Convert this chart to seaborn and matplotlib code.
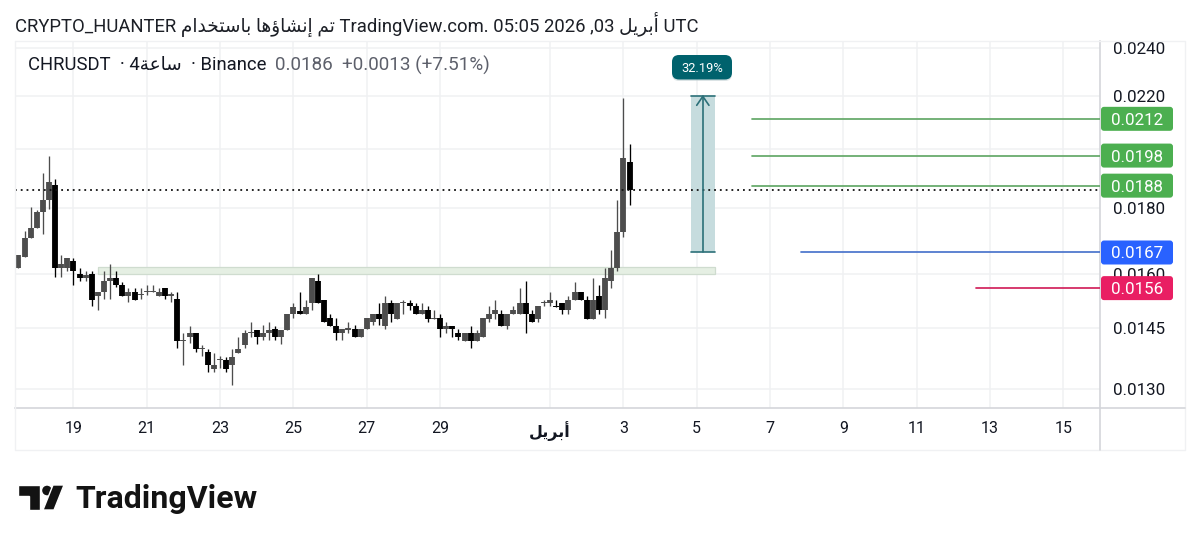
import numpy as np
import pandas as pd
import seaborn as sns
import matplotlib.pyplot as plt
from matplotlib.patches import FancyBboxPatch, Polygon, Circle
from matplotlib.ticker import NullLocator

# candles, one every 4 hours, in units of 0.0001 (bar 0 = the 19th)
opens = [
    161.7, 164.8, 170.7, 173.8, 178.7, 182.5, 187.7, 161.7, 161.6, 163.6,
    159.8, 158.9, 159.8, 153.7, 154.8, 157.8, 158.9, 156.7, 153.7, 154.8,
    153.9, 154.7, 154.7, 153.8, 155.8, 153.8, 152.8, 141.8, 142.8, 143.9,
    139.7, 138.9, 134.9, 137.0, 137.0, 135.8, 138.8, 140.8, 143.9, 144.7,
    142.8, 143.9, 144.8, 142.8, 144.7, 148.7, 149.7, 148.7, 151.8, 157.8,
    152.7, 147.7, 145.7, 143.9, 144.7, 144.8, 142.8, 144.8, 146.8, 148.7,
    145.6, 151.9, 147.6, 151.9, 151.9, 150.9, 148.7, 149.8, 147.6, 147.7,
    144.8, 145.7, 143.7, 141.9, 143.7, 141.9, 142.8, 147.6, 148.7, 148.7,
    145.7, 148.7, 148.7, 151.9, 148.7, 147.6, 151.9, 151.9, 151.0, 151.9,
    149.8, 152.7, 154.8, 152.7, 147.6, 153.7, 149.8, 157.8, 161.6, 172.5,
    195.6,
]
highs = [
    165.6, 172.6, 180.5, 179.4, 191.8, 197.5, 189.7, 165.6, 164.7, 164.7,
    161.7, 160.9, 160.8, 154.8, 160.9, 162.7, 160.9, 157.6, 155.8, 155.8,
    155.8, 156.7, 156.7, 155.8, 155.8, 154.8, 154.8, 143.8, 145.7, 143.9,
    140.8, 139.8, 138.8, 138.1, 137.8, 139.8, 142.8, 144.7, 146.7, 144.7,
    145.8, 146.7, 145.6, 144.7, 148.7, 151.8, 154.8, 152.7, 158.9, 159.8,
    152.7, 148.7, 147.7, 144.8, 146.7, 145.8, 144.8, 147.7, 148.7, 151.9,
    153.7, 152.7, 151.9, 152.7, 152.5, 151.9, 151.9, 150.9, 149.8, 148.7,
    146.8, 145.7, 144.8, 143.7, 145.7, 144.5, 147.7, 150.9, 152.7, 149.8,
    148.7, 150.9, 155.9, 157.8, 149.8, 150.9, 152.7, 154.8, 152.7, 151.9,
    153.7, 157.7, 154.8, 153.7, 158.9, 156.7, 161.7, 166.8, 182.6, 219.5,
    201.8,
]
lows = [
    161.7, 164.8, 170.7, 173.8, 171.9, 179.7, 159.0, 159.0, 160.9, 156.9,
    157.9, 157.9, 151.0, 150.0, 152.9, 152.9, 156.1, 153.7, 152.0, 152.7,
    153.0, 153.9, 154.7, 153.8, 152.8, 152.0, 139.9, 135.9, 141.2, 138.9,
    138.1, 134.0, 134.0, 135.1, 134.0, 131.0, 138.8, 139.9, 142.8, 141.0,
    142.0, 142.0, 142.0, 141.0, 144.7, 147.8, 148.7, 148.7, 149.8, 151.8,
    146.7, 145.7, 142.0, 142.0, 143.9, 142.8, 142.8, 144.8, 145.8, 145.8,
    144.8, 146.7, 147.6, 148.9, 149.9, 148.7, 148.7, 146.7, 147.6, 142.8,
    143.9, 142.8, 142.0, 141.9, 139.9, 141.9, 142.8, 146.7, 147.6, 145.7,
    144.8, 148.7, 148.7, 143.9, 146.7, 146.7, 151.1, 151.1, 150.8, 148.7,
    148.7, 152.7, 152.7, 147.6, 147.6, 148.7, 147.8, 155.9, 160.9, 170.8,
    181.0,
]
closes = [
    165.6, 170.6, 173.7, 178.6, 182.5, 188.7, 161.7, 162.7, 164.7, 160.8,
    158.9, 159.7, 152.5, 154.8, 157.8, 158.9, 156.7, 153.7, 154.7, 152.7,
    154.4, 155.0, 155.0, 154.8, 153.7, 154.2, 141.8, 142.0, 143.9, 139.8,
    139.9, 135.8, 135.8, 137.2, 134.8, 137.8, 139.8, 143.9, 144.1, 142.8,
    143.7, 144.7, 142.8, 144.7, 148.7, 150.7, 148.7, 150.7, 158.9, 151.8,
    146.7, 145.7, 143.9, 144.8, 145.0, 142.8, 144.8, 147.7, 148.7, 147.6,
    151.9, 148.7, 151.9, 152.0, 150.9, 148.7, 149.8, 147.6, 147.8, 144.8,
    145.7, 144.8, 142.8, 143.7, 141.9, 143.7, 147.7, 148.7, 149.8, 145.7,
    148.7, 149.8, 151.9, 148.7, 146.7, 150.9, 152.1, 152.7, 150.8, 149.8,
    152.7, 154.8, 152.7, 147.6, 152.7, 149.8, 158.9, 161.7, 172.5, 197.0,
    186.0,
]
first_bar = -9
last_price = 0.0186

day_ticks = [0, 12, 24, 36, 48, 60, 78, 90, 102, 114, 126, 138, 150, 162]
day_labels = ["19", "21", "23", "25", "27", "29", "أبريل", "3", "5", "7", "9", "11", "13", "15"]
price_ticks = [0.0240, 0.0220, 0.0200, 0.0180, 0.0160, 0.0145, 0.0130]
price_labels = ["0.0240", "0.0220", "", "0.0180", "0.0160", "0.0145", "0.0130"]

level_prices = [0.02113, 0.01978, 0.01874, 0.01662, 0.01559]
level_texts = ["0.0212", "0.0198", "0.0188", "0.0167", "0.0156"]
level_starts = [111, 111, 111, 119, 147.7]
level_lines = ["#63a867", "#63a867", "#63a867", "#4a74cc", "#d2225c"]
level_boxes = ["#4caf50", "#4caf50", "#4caf50", "#2962ff", "#e91e63"]

move_low, move_high = 0.01664, 0.0220
zone_low, zone_high = 0.01598, 0.01618

# arabic text has to be shaped by hand, matplotlib does not do it
FORMS = {
    "ا": (0xFE8D, 2), "أ": (0xFE83, 2), "إ": (0xFE87, 2), "ؤ": (0xFE85, 2), "د": (0xFEA9, 2),
    "ر": (0xFEAD, 2), "ة": (0xFE93, 2), "ب": (0xFE8F, 4), "ت": (0xFE95, 4), "خ": (0xFEA5, 4),
    "س": (0xFEB1, 4), "ش": (0xFEB5, 4), "ع": (0xFEC9, 4), "ل": (0xFEDD, 4), "م": (0xFEE1, 4),
    "ن": (0xFEE5, 4), "ه": (0xFEE9, 4), "ي": (0xFEF1, 4),
}


def shape(text):
    out = []
    for i, ch in enumerate(text):
        if ch not in FORMS:
            out.append(ch)
            continue
        base, n = FORMS[ch]
        prev = text[i - 1] if i else " "
        nxt = text[i + 1] if i + 1 < len(text) else " "
        joins_prev = prev in FORMS and FORMS[prev][1] == 4
        joins_next = n == 4 and nxt in FORMS
        offset = {(0, 0): 0, (1, 0): 1, (0, 1): 2, (1, 1): 3}[(int(joins_prev), int(joins_next))]
        out.append(chr(base + offset))
    return "".join(reversed(out))


W, H = 1200, 542
sns.set_theme(style="white")
plt.rcParams["font.family"] = ["Roboto", "DejaVu Sans"]

bars = np.arange(len(opens)) + first_bar
candles = pd.DataFrame({"bar": bars, "open": opens, "high": highs, "low": lows, "close": closes})
candles[["open", "high", "low", "close"]] *= 1e-4
candles["side"] = np.where(candles["close"] >= candles["open"], "up", "down")
wicks = candles.melt(id_vars=["bar", "side"], value_vars=["high", "low"], value_name="price")
bodies = candles.melt(id_vars=["bar", "side"], value_vars=["open", "close"], value_name="price")
side_colors = {"up": "#4d4d4d", "down": "#000000"}

fig = plt.figure(figsize=(W / 100, H / 100), dpi=100, facecolor="white")
left, right, top, bottom = 15, 1100, 41, 408
ax = fig.add_axes([left / W, 1 - bottom / H, (right - left) / W, (bottom - top) / H])

for data, width in [(wicks, 0.95), (bodies, 4.2)]:
    sns.lineplot(
        data=data, x="bar", y="price", hue="side", units="bar", estimator=None,
        palette=side_colors, linewidth=width, legend=False, ax=ax, zorder=4,
        solid_capstyle="butt", sort=False,
    )

ax.set_yscale("log")
ax.set_xlim(-9.57, 168.0)
ax.set_ylim(0.01257, 0.0243)
ax.yaxis.tick_right()
ax.yaxis.set_minor_locator(NullLocator())
ax.set_yticks(price_ticks)
ax.set_yticklabels(price_labels)
ax.set_xticks(day_ticks)
ax.set_xticklabels([shape(t) if not t.isdigit() else t for t in day_labels])
ax.set_xlabel("")
ax.set_ylabel("")
ax.tick_params(axis="y", length=0, pad=9.5, labelsize=12.2, labelcolor="#131722")
ax.tick_params(axis="x", length=0, pad=9.5, labelsize=11.5, labelcolor="#131722")
ax.get_xticklabels()[6].set_fontweight("bold")
ax.grid(True, color="#f0f1f3", linewidth=1.1)
ax.set_axisbelow(True)
for name, spine in ax.spines.items():
    spine.set_visible(name in ("right", "bottom"))
    spine.set_color("#d4d6da")
    spine.set_linewidth(1.2)

# zone, current price and measure tool
ax.fill_between([4, 105], zone_low, zone_high, facecolor="#e5efe3", edgecolor="#cfdccf", linewidth=0.9, zorder=2)
ax.axhline(last_price, color="#111111", linewidth=1.3, linestyle=(0, (1, 2.2)), zorder=5)
ax.fill_between([101, 105], move_low, move_high, color="#c6dcde", linewidth=0, zorder=2)
ax.plot([101, 105], [move_low, move_low], color="#2c7079", linewidth=1.2, zorder=6)
ax.plot([101, 105], [move_high, move_high], color="#2c7079", linewidth=1.2, zorder=6)
ax.plot([103, 103], [move_low, move_high], color="#2c7079", linewidth=1.2, zorder=6)
ax.plot([102, 103, 104], [0.02165, move_high, 0.02165], color="#2c7079", linewidth=1.2, zorder=6)

for price, start, color in zip(level_prices, level_starts, level_lines):
    ax.plot([start, 168.0], [price, price], color=color, linewidth=1.25, zorder=5)

# everything around the plot is placed in picture pixels
pix = fig.add_axes([0, 0, 1, 1], facecolor="none", zorder=5)
pix.set_xlim(0, W)
pix.set_ylim(H, 0)
pix.axis("off")

frame = "#f0f1f3"
pix.plot([15, 1185, 1185, 15, 15], [41, 41, 450, 450, 41], color=frame, linewidth=1.0)
pix.plot([1100, 1185], [408, 408], color="#d4d6da", linewidth=1.2)
pix.plot([1100, 1100], [408, 450], color="#d4d6da", linewidth=1.2)

for price, label, color in zip(level_prices, level_texts, level_boxes):
    y = H - ax.transData.transform((0, price))[1]
    pix.add_patch(FancyBboxPatch((1101, y - 12), 72, 24, boxstyle="round,pad=0,rounding_size=3",
                                 facecolor=color, edgecolor="none", zorder=6))
    pix.text(1137, y, label, color="white", fontsize=12.2, ha="center", va="center_baseline", zorder=7)

pix.add_patch(FancyBboxPatch((672, 56), 60, 25, boxstyle="round,pad=0,rounding_size=7",
                             facecolor="#b9c9cc", edgecolor="none", alpha=0.5, zorder=6))
pix.add_patch(FancyBboxPatch((672, 55), 60, 24.5, boxstyle="round,pad=0,rounding_size=7",
                             facecolor="#00626d", edgecolor="none", zorder=6))
pix.text(702, 67.5, "32.19%", color="white", fontsize=9.3, ha="center", va="center_baseline", zorder=7)

title = ("CRYPTO_HUANTER " + shape("تم إنشاؤها باستخدام") + " TradingView.com. 05:05 2026 ,03 "
         + shape("أبريل") + " UTC")
pix.text(15, 22, title, color="#1c1f26", fontsize=13.35, ha="left", va="center_baseline")
pix.text(28, 63, "CHRUSDT  · 4" + shape("ساعة") + "  · Binance", color="#131722", fontsize=13.3,
         ha="left", va="center_baseline")
pix.text(275, 63, "0.0186  +0.0013 (+7.51%)", color="#5d606b", fontsize=13.6, ha="left", va="center_baseline")

# logo
pix.add_patch(Polygon([(18, 485), (40, 485), (40, 510), (29, 510), (29, 496), (18, 496)], facecolor="#131313"))
pix.add_patch(Circle((47, 490.5), 5.5, facecolor="#131313"))
pix.add_patch(Polygon([(53, 485), (64, 485), (54, 510), (43, 510)], facecolor="#131313"))
pix.text(75, 496, "TradingView", color="#131313", fontsize=23, fontweight="bold", ha="left", va="center_baseline")

fig.savefig("out.png", dpi=100)
